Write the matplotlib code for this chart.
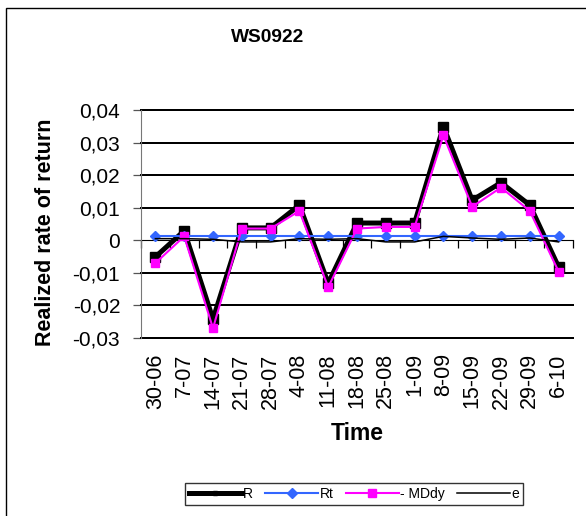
import matplotlib
matplotlib.use("Agg")
import matplotlib.pyplot as plt
from matplotlib.patches import Rectangle

plt.rcParams['font.family'] = ['Liberation Sans', 'DejaVu Sans']

# data
dates = ["30-06", "7-07", "14-07", "21-07", "28-07", "4-08", "11-08", "18-08",
         "25-08", "1-09", "8-09", "15-09", "22-09", "29-09", "6-10"]
R = [-0.0051, 0.0029, -0.0242, 0.0038, 0.0038, 0.0108, -0.0132, 0.0053,
     0.0053, 0.0053, 0.0349, 0.0123, 0.0177, 0.0108, -0.0082]
Rt = [0.0012, 0.0012, 0.0012, 0.0012, 0.0012, 0.0012, 0.0012, 0.0012,
      0.0012, 0.0012, 0.0012, 0.0012, 0.0012, 0.0012, 0.0012]
MDdy = [-0.0070, 0.0012, -0.0270, 0.0036, 0.0036, 0.0090, -0.0144, 0.0036,
        0.0041, 0.0041, 0.0322, 0.0103, 0.0162, 0.0090, -0.0096]
e = [0.0005, 0.0005, 0.0003, -0.0005, -0.0005, 0.0005, 0.0003, 0.0005,
     -0.0005, -0.0005, 0.0012, 0.0007, 0.0003, 0.0007, -0.0005]
yticks = [-0.03, -0.02, -0.01, 0, 0.01, 0.02, 0.03, 0.04]

W, H = 586, 516
fig = plt.figure(figsize=(W / 100, H / 100), dpi=100)
ax = fig.add_axes([141 / W, 1 - 338 / H, 432 / W, 228 / H])

x = list(range(len(dates)))
ax.set_xlim(-0.5, len(dates) - 0.5)
ax.set_ylim(-0.03, 0.04)

# horizontal gridlines
for v in yticks:
    if v != 0:
        ax.plot([-0.5, len(dates) - 0.5], [v, v], color='black', lw=1.2,
                antialiased=False, zorder=2, clip_on=False)

ax.plot(x, R, color='black', lw=3.6, marker='s', ms=7, label='R', zorder=3)
ax.plot(x, Rt, color='#3366FF', lw=1.5, marker='D', ms=5, label='Rt', zorder=4)
ax.plot(x, MDdy, color='#FF00FF', lw=1.5, marker='s', ms=5.5, label='- MDdy', zorder=5)
ax.plot(x, e, color='black', lw=1.1, label='e', zorder=6)

ax.set_yticks(yticks)
ax.set_yticklabels([("0" if v == 0 else f"{v:.2f}".replace(".", ",")) for v in yticks], fontsize=15)
ax.tick_params(axis='y', length=6, width=0.9, pad=9, color='#555555')

# category axis sits at zero, ticks between categories
ax.spines['bottom'].set_position(('data', 0))
ax.spines['bottom'].set_color('black')
ax.spines['bottom'].set_zorder(2)
ax.set_xticks([i - 0.5 for i in range(len(dates) + 1)])
ax.set_xticklabels([])
ax.tick_params(axis='x', length=6, width=0.9, direction='out')
ax.spines['top'].set_visible(False)
ax.spines['right'].set_visible(False)
ax.spines['left'].set_color('#777777')

for i, lab in enumerate(dates):
    ax.annotate(lab, xy=(i, 0), xycoords=('data', 'axes fraction'),
                xytext=(0, -11), textcoords='offset points',
                rotation=90, ha='center', va='top', fontsize=15.5)

fig.text(268 / W, 1 - 37 / H, "WS0922", fontsize=13.8, fontweight='bold', ha='center', va='center')
fig.text(46 / W, 1 - 232 / H, "Realized rate of return", fontsize=15.5, fontweight='bold',
         rotation=90, ha='center', va='center')
fig.text(357 / W, 1 - 433 / H, "Time", fontsize=16.5, fontweight='bold', ha='center', va='center')

handles, labels = ax.get_legend_handles_labels()
leg = fig.legend(handles[-4:], labels[-4:], loc='center', bbox_to_anchor=(354 / W, 1 - 494 / H),
                 ncol=4, fontsize=10, frameon=True, fancybox=False, edgecolor='black',
                 handlelength=3.8, handletextpad=0.1, columnspacing=0.9, borderpad=0.3)
leg.get_frame().set_linewidth(1)
leg.legend_handles[0].set_markersize(3)

fig.patches.append(Rectangle((6 / W, -0.1), 1.2, 1 - 8 / H + 0.1, transform=fig.transFigure,
                             fill=False, edgecolor='black', lw=1))

fig.savefig("out.png", dpi=100)
